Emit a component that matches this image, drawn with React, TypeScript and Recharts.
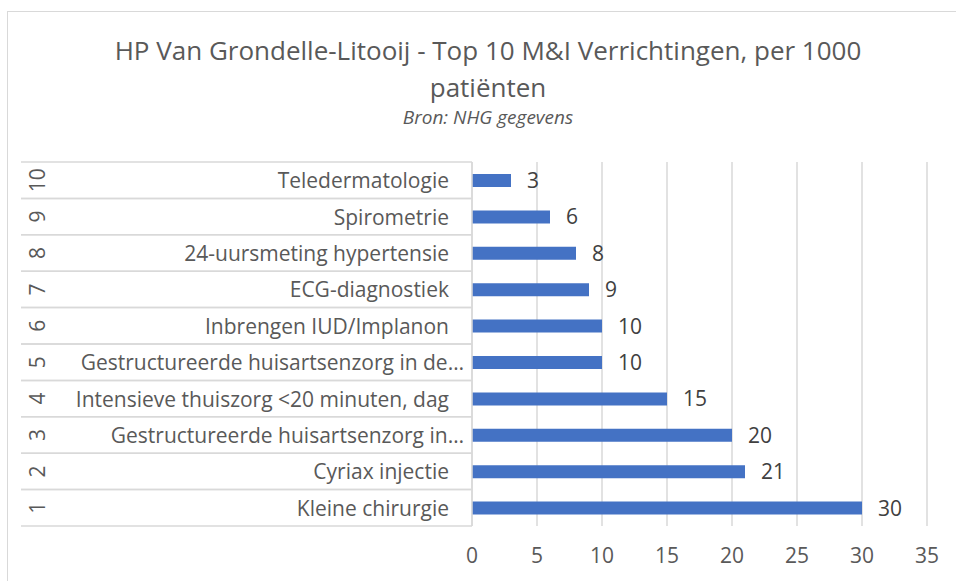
import React from 'react';
import { BarChart, Bar, XAxis, YAxis, CartesianGrid, LabelList } from 'recharts';

// Rangorde 1..10 (1 = meest uitgevoerd)
const ranks = [1, 2, 3, 4, 5, 6, 7, 8, 9, 10];
const verrichtingen = [
  'Kleine chirurgie',
  'Cyriax injectie',
  'Gestructureerde huisartsenzorg in…',
  'Intensieve thuiszorg <20 minuten, dag',
  'Gestructureerde huisartsenzorg in de…',
  'Inbrengen IUD/Implanon',
  'ECG-diagnostiek',
  '24-uursmeting hypertensie',
  'Spirometrie',
  'Teledermatologie',
];
const per1000 = [30, 21, 20, 15, 10, 10, 9, 8, 6, 3];
const xTicks = [0, 5, 10, 15, 20, 25, 30, 35];

const data = ranks.map((r, i) => ({ rank: r, label: verrichtingen[i], value: per1000[i] }));

const FONT = '"Open Sans", "Noto Sans", sans-serif';
const TEXT = '#595959';
const GRID = '#d9d9d9';
const FS = 21;

const TABLE_LEFT = 21;
const AXIS_X = 472;

/** Tweeledige categorie-as: rangnummer (gedraaid) + omschrijving, met rijlijnen. */
function CategoryTick(props: any) {
  const { y, payload, index } = props;
  const d = data[index] ?? data.find((x) => x.label === payload.value);
  const band = 36.4;
  const top = y - band / 2;
  const bottom = y + band / 2;
  // afgekapte labels lopen met hun "…" iets verder door, zoals in Excel
  const labelEnd = String(payload.value).endsWith('…') ? 464 : 449;
  return (
    <g>
      <line x1={TABLE_LEFT} x2={AXIS_X} y1={top} y2={top} stroke={GRID} strokeWidth={1.5} />
      <line x1={TABLE_LEFT} x2={AXIS_X} y1={bottom} y2={bottom} stroke={GRID} strokeWidth={1.5} />
      <text
        x={0}
        y={0}
        transform={`translate(37, ${y}) rotate(-90)`}
        textAnchor="middle"
        dominantBaseline="central"
        fill={TEXT}
        fontSize={FS}
        fontFamily={FONT}
      >
        {d?.rank}
      </text>
      <text
        x={labelEnd}
        y={y}
        textAnchor="end"
        dominantBaseline="central"
        fill={TEXT}
        fontSize={FS}
        fontFamily={FONT}
      >
        {payload.value}
      </text>
    </g>
  );
}

function ValueTick(props: any) {
  const { x, payload } = props;
  return (
    <text
      x={x}
      y={555}
      textAnchor="middle"
      dominantBaseline="central"
      fill={TEXT}
      fontSize={FS}
      fontFamily={FONT}
    >
      {payload.value}
    </text>
  );
}

export default function App(): React.ReactElement {
  return (
    <div
      style={{
        position: 'absolute',
        left: 0,
        top: 0,
        width: 956,
        height: 581,
        overflow: 'hidden',
        background: '#fff',
        fontFamily: FONT,
      }}
    >
      <div
        style={{
          position: 'absolute',
          left: 7,
          top: 11,
          width: 1000,
          height: 700,
          border: `1px solid ${GRID}`,
        }}
      />
      <div
        style={{
          position: 'absolute',
          left: 0,
          width: 976,
          top: 32,
          textAlign: 'center',
          color: TEXT,
          fontSize: 26,
          lineHeight: '37px',
          whiteSpace: 'nowrap',
        }}
      >
        HP Van Grondelle-Litooij - Top 10 M&amp;I Verrichtingen, per 1000
        <br />
        patiënten
      </div>
      <div
        style={{
          position: 'absolute',
          left: 0,
          width: 976,
          top: 104,
          textAlign: 'center',
          color: TEXT,
          fontSize: 19,
          fontStyle: 'italic',
        }}
      >
        Bron: NHG gegevens
      </div>
      <div style={{ position: 'absolute', left: 0, top: 0 }}>
        <BarChart
          width={956}
          height={581}
          data={data}
          layout="vertical"
          margin={{ top: 162, right: 29, bottom: 0, left: TABLE_LEFT }}
        >
          <CartesianGrid horizontal={false} vertical stroke={GRID} strokeWidth={1.5} />
          <XAxis
            type="number"
            domain={[0, 35]}
            ticks={xTicks}
            axisLine={false}
            tickLine={false}
            height={55}
            tick={<ValueTick />}
          />
          <YAxis
            type="category"
            dataKey="label"
            reversed
            width={AXIS_X - TABLE_LEFT}
            axisLine={{ stroke: GRID, strokeWidth: 1.5 }}
            tickLine={false}
            interval={0}
            tick={<CategoryTick />}
          />
          <Bar dataKey="value" fill="#4472c4" barSize={13} isAnimationActive={false}>
            <LabelList
              dataKey="value"
              position="right"
              offset={16}
              fill="#404040"
              fontSize={FS}
              fontFamily={FONT}
            />
          </Bar>
        </BarChart>
      </div>
    </div>
  );
}
